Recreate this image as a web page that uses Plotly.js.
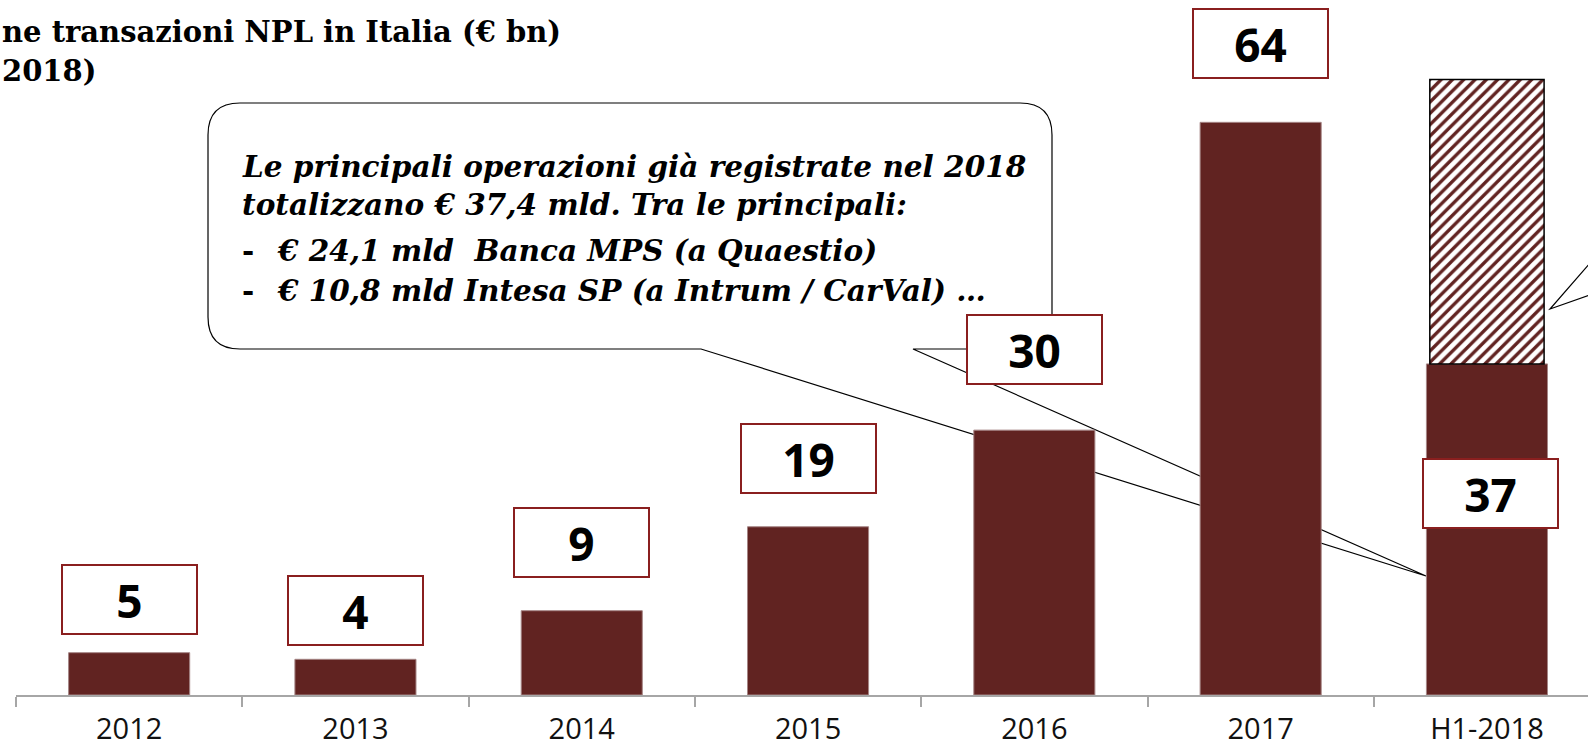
<!DOCTYPE html>
<html>
<head>
<meta charset="utf-8">
<script src="https://cdn.plot.ly/plotly-3.0.1.min.js"></script>
<style>
  html, body { margin: 0; padding: 0; background: #ffffff; }
  #chart { width: 1588px; height: 750px; }
</style>
</head>
<body>
<div id="chart"></div>
<script>
// ---------- DATA ----------
const categories = ["2012", "2013", "2014", "2015", "2016", "2017", "H1-2018"];
const volumes = [4.73, 3.99, 9.42, 18.8, 29.6, 64, 37.0];          // € bn (solid bars)
const hatchedCategory = ["H1-2018"];
const hatchedBase = [37.0];
const hatchedExtra = [31.8];                                        // hatched portion on top of H1-2018
const valueLabels = ["5", "4", "9", "19", "30", "64", "37"];
const titleLines = ["ne transazioni NPL in Italia (€ bn)", "2018)"];
const calloutLines = [
  "Le principali operazioni già registrate nel 2018",
  "totalizzano € 37,4 mld. Tra le principali:",
  "€ 24,1 mld  Banca MPS (a Quaestio)",
  "€ 10,8 mld Intesa SP (a Intrum / CarVal) …"
];

// ---------- LAYOUT CONSTANTS ----------
const W = 1588, H = 750;
const ML = 16, MB = 55;
const plotW = W - ML, plotH = H - MB;
const catW = 226.3;              // px per category
const pxPerUnit = 8.948;
const maroon = "#612321";
const boxBorder = "#8a1f1f";

const px = x => (x - ML) / plotW;          // pixel -> paper x
const py = y => (plotH - y) / plotH;       // pixel -> paper y

// label offsets above bar tops (px); last one sits inside bar
const labelShift = [18, 13, 33, 33, 45, 43, null];
const labelXShift = [0, 0, 0, 0, 0, 0, 4];

const traces = [
  {
    type: "bar",
    x: categories,
    y: volumes,
    width: 0.535,
    marker: { color: maroon, line: { color: "#a58585", width: 1 } },
    hoverinfo: "skip"
  },
  {
    type: "bar",
    x: hatchedCategory,
    y: hatchedExtra,
    base: hatchedBase,
    width: 0.505,
    marker: {
      color: "#ffffff",
      line: { color: "#000000", width: 1.5 },
      pattern: { shape: "/", fgcolor: maroon, bgcolor: "#ffffff", size: 8, solidity: 0.42, fillmode: "replace" }
    },
    hoverinfo: "skip"
  }
];

const annotations = [];
categories.forEach((c, i) => {
  const inside = labelShift[i] === null;
  annotations.push({
    x: i, y: volumes[i], xref: "x", yref: "y",
    text: "<b>" + valueLabels[i] + "</b>",
    showarrow: false,
    xanchor: "center",
    yanchor: inside ? "top" : "bottom",
    yshift: inside ? -94 : labelShift[i],
    xshift: labelXShift[i],
    font: { family: "Open Sans, sans-serif", size: 46, color: "#000000" },
    bgcolor: "#ffffff",
    bordercolor: boxBorder,
    borderwidth: 2,
    borderpad: 0,
    width: 133,
    height: 67,
    align: "center",
    valign: "middle"
  });
});

// title fragments (cut at left edge)
const titleFont = { family: "DejaVu Serif, serif", size: 29, color: "#000000" };
annotations.push({
  xref: "paper", yref: "paper", x: px(0), y: py(32), xanchor: "left", yanchor: "middle",
  text: "<b>" + titleLines[0] + "</b>", showarrow: false, font: titleFont
});
annotations.push({
  xref: "paper", yref: "paper", x: px(0), y: py(71), xanchor: "left", yanchor: "middle",
  text: "<b>" + titleLines[1] + "</b>", showarrow: false, font: titleFont
});

// callout text
const cFont = { family: "DejaVu Serif, serif", size: 29.5, color: "#000000" };
const cY = [166, 204, 250, 290];
const cX = [240, 240, 275, 275];
calloutLines.forEach((t, i) => {
  annotations.push({
    xref: "paper", yref: "paper", x: px(cX[i]), y: py(cY[i]), xanchor: "left", yanchor: "middle",
    text: "<b><i>" + t + "</i></b>", showarrow: false, font: cFont
  });
});
[2, 3].forEach(i => {
  annotations.push({
    xref: "paper", yref: "paper", x: px(240), y: py(cY[i]), xanchor: "left", yanchor: "middle",
    text: "<b>-</b>", showarrow: false, font: cFont
  });
});

// callout bubble with tail
const L = 208, T = 103, R = 1052, B = 349, r = 32;
const tailA = 701, tailB = 913, tipX = 1426, tipY = 576;
const P = (x, y) => px(x).toFixed(5) + "," + py(y).toFixed(5);
const bubble =
  "M" + P(L + r, T) + " L" + P(R - r, T) + " Q" + P(R, T) + " " + P(R, T + r) +
  " L" + P(R, B - r) + " Q" + P(R, B) + " " + P(R - r, B) +
  " L" + P(tailB, B) + " L" + P(tipX, tipY) + " L" + P(tailA, B) +
  " L" + P(L + r, B) + " Q" + P(L, B) + " " + P(L, B - r) +
  " L" + P(L, T + r) + " Q" + P(L, T) + " " + P(L + r, T) + " Z";

const rightTail = "M" + P(1590, 263) + " L" + P(1550, 309) + " L" + P(1590, 295);

const layout = {
  width: W, height: H,
  margin: { l: ML, r: 0, t: 0, b: MB, pad: 0 },
  paper_bgcolor: "#ffffff",
  plot_bgcolor: "#ffffff",
  showlegend: false,
  barmode: "overlay",
  bargap: 0,
  xaxis: {
    type: "category",
    categoryorder: "array",
    categoryarray: categories,
    range: [-0.5, -0.5 + plotW / catW],
    showline: true, linecolor: "#a6a6a6", linewidth: 2,
    ticks: "outside", tickson: "boundaries", ticklen: 10, tickwidth: 2, tickcolor: "#a6a6a6",
    tickfont: { family: "Open Sans, sans-serif", size: 29, color: "#111111" },
    ticklabelstandoff: 7,
    showgrid: false, zeroline: false, fixedrange: true
  },
  yaxis: {
    range: [0, plotH / pxPerUnit],
    visible: false, showgrid: false, zeroline: false, fixedrange: true
  },
  shapes: [
    { type: "path", xref: "paper", yref: "paper", path: bubble, layer: "below",
      fillcolor: "#ffffff", line: { color: "#000000", width: 1.2 } },
    { type: "path", xref: "paper", yref: "paper", path: rightTail, layer: "above",
      line: { color: "#000000", width: 1.2 } }
  ],
  annotations: annotations
};

Plotly.newPlot("chart", traces, layout, { displayModeBar: false, staticPlot: true });
</script>
</body>
</html>
